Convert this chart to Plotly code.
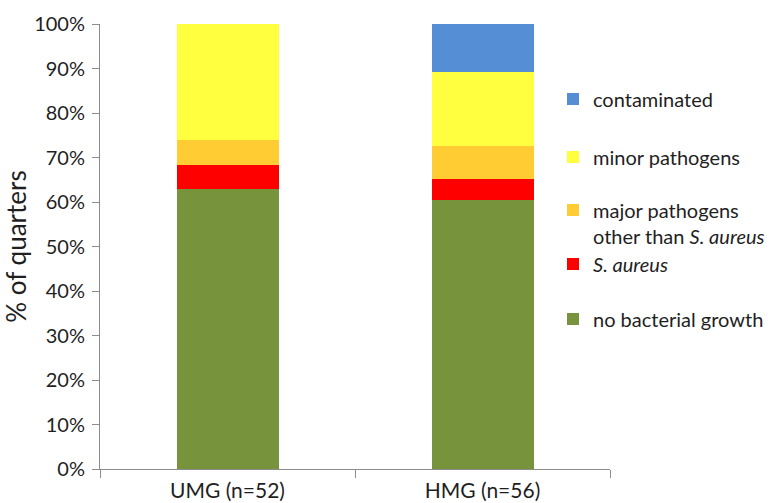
import plotly.graph_objects as go

# Udder-quarter culture results by group (percent of quarters)
groups = ["UMG (n=52)", "HMG (n=56)"]
no_growth = [62.9, 60.4]
s_aureus = [5.5, 4.7]
major_other = [5.5, 7.5]
minor = [26.1, 16.7]
contaminated = [0.0, 10.7]

series = [
    ("no bacterial growth", no_growth, "#77933C", "legend5"),
    ("<i>S. aureus</i>", s_aureus, "#FF0000", "legend4"),
    ("major pathogens<br>other than <i>S. aureus</i>", major_other, "#FFCC33", "legend3"),
    ("minor pathogens", minor, "#FFFF40", "legend2"),
    ("contaminated", contaminated, "#558ED5", "legend"),
]

FONT = "Lato"
TEXT = "#1f1f1f"
AXIS = "#8c8c8c"
W, H = 769, 503

fig = go.Figure()
for name, vals, color, leg in series:
    fig.add_trace(go.Bar(
        x=groups, y=vals, name=name, marker=dict(color=color, line=dict(width=0)),
        width=0.4, legend=leg,
    ))

# one legend box per entry so each sits at its own height (container pixels)
leg_center_px = {"legend": 99, "legend2": 157, "legend3": 223,
                 "legend4": 264, "legend5": 319}
legend_left_px = 553
legend_layout = {}
for key, ypx in leg_center_px.items():
    legend_layout[key] = dict(
        xref="container", yref="container",
        x=legend_left_px / W, xanchor="left",
        y=1 - ypx / H, yanchor="middle",
        font=dict(family=FONT, size=20, color=TEXT),
        bgcolor="rgba(0,0,0,0)", borderwidth=0, valign="top",
    )

fig.update_layout(
    barmode="stack",
    width=W, height=H,
    margin=dict(l=100, r=159, t=24, b=34, autoexpand=False),
    paper_bgcolor="white", plot_bgcolor="white",
    font=dict(family=FONT, color=TEXT),
    showlegend=True,
    **legend_layout,
)

fig.update_yaxes(
    range=[0, 100], dtick=10, ticksuffix="%",
    showgrid=False, zeroline=False,
    showline=True, linecolor=AXIS, linewidth=1,
    ticks="outside", ticklen=7, tickcolor=AXIS,
    ticklabelstandoff=3,
    tickfont=dict(family=FONT, size=20, color=TEXT),
    title=dict(text="% of quarters", font=dict(family=FONT, size=26, color=TEXT), standoff=0),
    automargin=False,
)
fig.update_xaxes(
    showgrid=False, zeroline=False,
    showline=True, linecolor=AXIS, linewidth=1,
    ticks="outside", ticklen=8, tickcolor=AXIS, tickson="boundaries",
    ticklabelstandoff=3,
    tickfont=dict(family=FONT, size=21, color=TEXT),
    automargin=False,
)

fig.write_html("out.html")
